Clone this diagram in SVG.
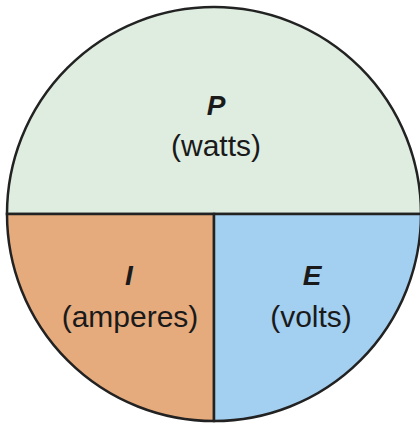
<svg xmlns="http://www.w3.org/2000/svg" width="420" height="423" viewBox="0 0 420 423">
<style>
.lbl{font-family:"Liberation Sans",Arial,Helvetica,sans-serif;font-size:30px;fill:#1a1a1a;text-anchor:middle}
.sym{font-weight:bold;font-style:italic;font-size:28px}
.seg{stroke:#222;stroke-width:2.5}
</style>
<rect width="420" height="423" fill="#fff"/>
<g id="node-p">
<path class="seg" d="M7,214 A207,207 0 0 1 421,214 Z" fill="#deede0"/>
<text class="lbl sym" x="216" y="115">P</text>
<text class="lbl" x="216" y="156">(watts)</text>
</g>
<g id="node-i">
<path class="seg" d="M7,214 L214,214 L214,421 A207,207 0 0 1 7,214 Z" fill="#e6ab7d"/>
<text class="lbl sym" x="129" y="285">I</text>
<text class="lbl" x="130" y="327">(amperes)</text>
</g>
<g id="node-e">
<path class="seg" d="M421,214 L214,214 L214,421 A207,207 0 0 0 421,214 Z" fill="#a3cff0"/>
<text class="lbl sym" x="312" y="285">E</text>
<text class="lbl" x="311" y="327">(volts)</text>
</g>
<g id="connectors"></g>
</svg>
